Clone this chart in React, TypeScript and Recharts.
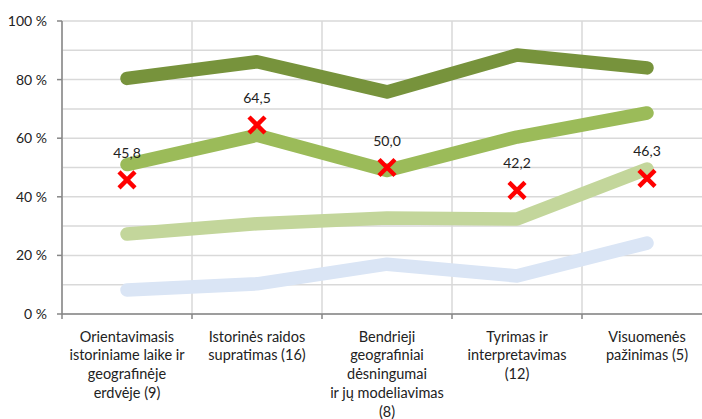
import { LineChart, Line, XAxis, YAxis, CartesianGrid, LabelList } from 'recharts';

const categories = [
    ['Orientavimasis', 'istoriniame laike ir', 'geografinėje', 'erdvėje (9)'],
    ['Istorinės raidos', 'supratimas (16)'],
    ['Bendrieji', 'geografiniai', 'dėsningumai', 'ir jų modeliavimas', '(8)'],
    ['Tyrimas ir', 'interpretavimas', '(12)'],
    ['Visuomenės', 'pažinimas (5)'],
];

const darkSeries = [80.4, 86.1, 75.8, 88.4, 84.0];
const midSeries = [51.0, 61.0, 49.0, 60.4, 68.6];
const lightSeries = [27.3, 30.8, 32.8, 32.4, 49.5];
const blueSeries = [8.2, 10.3, 17.0, 13.0, 24.2];
const markerValues = [45.8, 64.5, 50.0, 42.2, 46.3];

const yTicks = [0, 20, 40, 60, 80, 100];

const data = categories.map((lines, i) => ({
    name: lines.join(' '),
    lines,
    dark: darkSeries[i],
    mid: midSeries[i],
    light: lightSeries[i],
    blue: blueSeries[i],
    marker: markerValues[i],
}));

const FONT = 'Lato, "Open Sans", sans-serif';
const BAND = 130;

const CategoryTick = (props: any) => {
    const { x, y, payload } = props;
    const lines: string[] = data[payload.index]?.lines ?? [];
    return (
        <g>
            <line x1={x - BAND / 2} x2={x - BAND / 2} y1={y - 8} y2={y - 3} stroke="#868686" strokeWidth={1.5} />
            <text x={x} y={y} textAnchor="middle" fontFamily={FONT} fontSize={14.5} fill="#222">
                {lines.map((l, i) => (
                    <tspan key={i} x={x} dy={i === 0 ? 19.5 : 18.9}>
                        {l}
                    </tspan>
                ))}
            </text>
        </g>
    );
};

const CrossDot = (props: any) => {
    const { cx, cy } = props;
    if (cx == null || cy == null) return null;
    const s = 8;
    return (
        <g>
            <line x1={cx - s} y1={cy - s} x2={cx + s} y2={cy + s} stroke="#FF0000" strokeWidth={4.5} />
            <line x1={cx - s} y1={cy + s} x2={cx + s} y2={cy - s} stroke="#FF0000" strokeWidth={4.5} />
        </g>
    );
};

export default function App() {
    return (
        <div style={{ position: 'absolute', left: 0, top: 0, width: 702, height: 419, overflow: 'hidden', background: '#fff' }}>
            <LineChart width={720} height={419} data={data} margin={{ top: 21, right: 8, bottom: 0, left: 0 }}>
                <CartesianGrid
                    stroke="#D9D9D9"
                    strokeWidth={1.5}
                    horizontalCoordinatesGenerator={({ offset }: any) =>
                        Array.from({ length: 11 }, (_, i) => offset.top + (offset.height * i) / 10)
                    }
                    verticalCoordinatesGenerator={({ offset }: any) =>
                        Array.from({ length: 6 }, (_, i) => offset.left + (offset.width * i) / 5)
                    }
                />
                <XAxis
                    dataKey="name"
                    height={105}
                    axisLine={{ stroke: '#868686', strokeWidth: 1.5 }}
                    tickLine={false}
                    tick={<CategoryTick />}
                    interval={0}
                    padding={{ left: BAND / 2, right: BAND / 2 }}
                />
                <YAxis
                    width={62}
                    domain={[0, 100]}
                    ticks={yTicks}
                    tickFormatter={(v) => `${v} %`}
                    axisLine={{ stroke: '#868686', strokeWidth: 1.5 }}
                    tickLine={{ stroke: '#868686', strokeWidth: 1.5 }}
                    tickSize={5}
                    tickMargin={10}
                    tick={{ fontFamily: FONT, fontSize: 14, fill: '#222' }}
                />
                <Line dataKey="blue" stroke="#DAE5F5" strokeWidth={13.5} strokeLinecap="round" strokeLinejoin="round" dot={false} isAnimationActive={false} />
                <Line dataKey="light" stroke="#C3D69B" strokeWidth={13.5} strokeLinecap="round" strokeLinejoin="round" dot={false} isAnimationActive={false} />
                <Line dataKey="mid" stroke="#9BBB59" strokeWidth={13.5} strokeLinecap="round" strokeLinejoin="round" dot={false} isAnimationActive={false} />
                <Line dataKey="dark" stroke="#77933C" strokeWidth={13.5} strokeLinecap="round" strokeLinejoin="round" dot={false} isAnimationActive={false} />
                <Line dataKey="marker" stroke="none" dot={<CrossDot />} activeDot={false} isAnimationActive={false}>
                    <LabelList
                        dataKey="marker"
                        position="top"
                        offset={22}
                        formatter={(v: any) => Number(v).toFixed(1).replace('.', ',')}
                        style={{ fontFamily: FONT, fontSize: 14, fill: '#222' }}
                    />
                </Line>
            </LineChart>
        </div>
    );
}
